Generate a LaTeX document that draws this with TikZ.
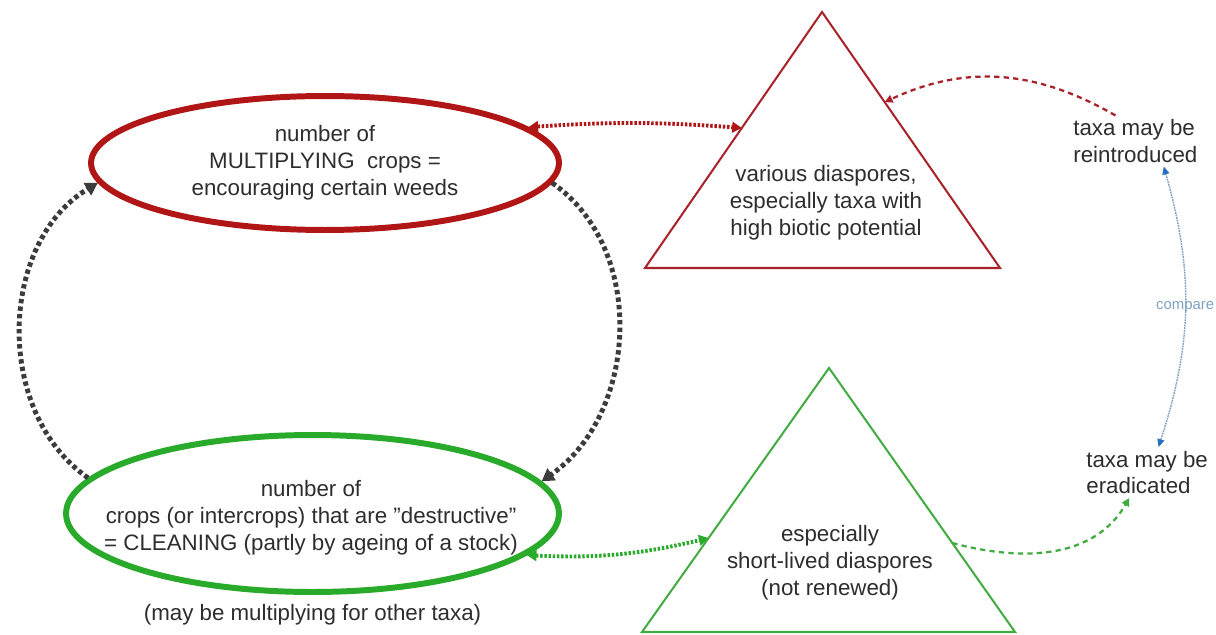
\documentclass[tikz,border=0pt]{standalone}
\usepackage{fontspec}
\setmainfont{Liberation Sans}[Ligatures=ResetAll]
\usetikzlibrary{shapes.geometric,arrows.meta,positioning,calc}
\definecolor{ellred}{RGB}{176,22,22}
\definecolor{trired}{RGB}{168,34,42}
\definecolor{ellgreen}{RGB}{42,170,42}
\definecolor{trigreen}{RGB}{66,172,66}
\definecolor{loopgray}{RGB}{60,60,60}
\definecolor{txtgray}{RGB}{45,45,45}
\definecolor{cmpblue}{RGB}{40,112,192}
\definecolor{cmpline}{RGB}{125,162,195}

\begin{document}
\begin{tikzpicture}[x=0.02cm,y=-0.02cm,
  font=\fontsize{12.7}{15.3}\selectfont,text=txtgray,
  crop node/.style={ellipse,draw,line width=3.4pt,inner sep=0pt},
  info node/.style={align=center,inner sep=2pt},
  side node/.style={align=left,inner sep=2pt,anchor=west},
  tri line/.style={line width=1.15pt,line join=miter},
  loop link/.style={draw=loopgray,line width=2.8pt,dash pattern=on 2.5pt off 1.8pt,
    -{Triangle[length=7pt,width=8pt]}},
  seed link/.style={line width=2.2pt,dash pattern=on 1.4pt off 1pt,
    {Triangle[length=5.5pt,width=6pt]}-{Triangle[length=5.5pt,width=6pt]}},
  fate link/.style={line width=1.3pt,dash pattern=on 3pt off 2.4pt,
    -{Triangle[length=4.5pt,width=4.5pt]}},
  cmp link/.style={draw=cmpline,line width=0.8pt,dash pattern=on 1pt off 0.5pt,
    {Triangle[length=4.5pt,width=4pt,color=cmpblue]}-{Triangle[length=4.5pt,width=4pt,color=cmpblue]}}]
\useasboundingbox (0,0) rectangle (1216,635);

% crop ellipses
  \node[crop node,draw=ellred,minimum width=9.36cm,minimum height=2.68cm] (redell) at (325,163) {};
  \node[info node] (redlbl) at (redell.center)
    {number of\\ MULTIPLYING\ \ crops =\\ encouraging certain weeds};
  \node[crop node,draw=ellgreen,minimum width=9.86cm,minimum height=3.14cm] (greenell) at (312.5,513.5) {};
  \node[info node] (greenlbl) at (311,518)
    {number of\\ crops (or intercrops) that are "destructive"\\ = CLEANING (partly by ageing of a stock)};
  \node[info node,below=3pt of greenell] (note) {(may be multiplying for other taxa)};

% seed bank triangles
  \coordinate (rtop) at (822,12);
  \coordinate (rleft) at (645,268);
  \coordinate (rright) at (1000,268);
  \draw[tri line,draw=trired] (rtop) -- (rright) -- (rleft) -- cycle;
  \node[info node] (redtxt) at (826,203) {various diaspores,\\ especially taxa with\\ high biotic potential};

  \coordinate (gtop) at (829,368);
  \coordinate (gleft) at (642,632);
  \coordinate (gright) at (1015,632);
  \draw[tri line,draw=trigreen] (gtop) -- (gright) -- (gleft) -- cycle;
  \node[info node] (greentxt) at (830,563) {especially\\ short-lived diaspores\\ (not renewed)};

  \coordinate (rin) at ($(rleft)!0.547!(rtop)$);
  \coordinate (rback) at ($(rright)!0.648!(rtop)$);
  \coordinate (gin) at ($(gleft)!0.356!(gtop)$);
  \coordinate (gout) at ($(gright)!0.337!(gtop)$);

% outcomes
  \node[side node] (reintro) at (1069.5,141) {taxa may be\\ reintroduced};
  \node[side node] (eradic) at (1082.5,472.5) {taxa may be\\ eradicated};

% LINKS
  \path
    (greenell.171) edge[loop link,out=145,in=211] (redell.185)
    (redell.-5) edge[loop link,out=-35,in=35] (greenell.8)

    (redell.10) edge[seed link,draw=ellred,bend left=4] (rin)
    (greenell.-11) edge[seed link,draw=ellgreen,bend right=8] (gin)

    (reintro.128) edge[fate link,draw=trired,out=150,in=25] (rback)
    (gout) edge[fate link,draw=trigreen,out=-15,in=240] (eradic.235)

    (reintro.-42) edge[cmp link,bend left=17]
      node[text=cmpline,font=\fontsize{8.5}{10}\selectfont] {compare} (eradic.66);

\end{tikzpicture}
\end{document}
